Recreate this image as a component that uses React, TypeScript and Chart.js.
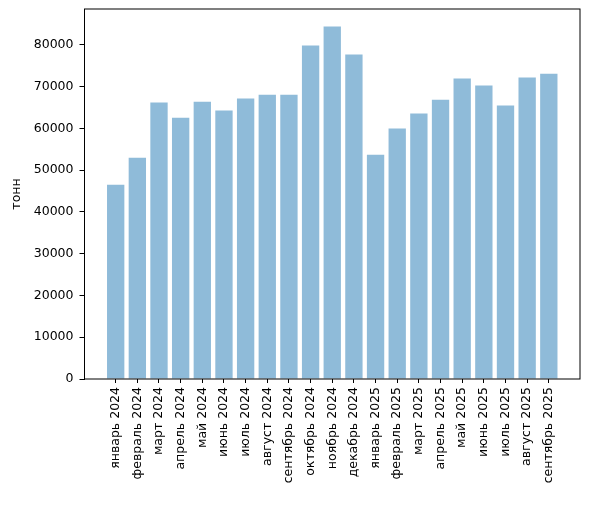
import { useEffect, useRef } from "react"
import { Chart, registerables } from "chart.js"

Chart.register(...registerables)

const months = [
  "январь 2024", "февраль 2024", "март 2024", "апрель 2024", "май 2024", "июнь 2024",
  "июль 2024", "август 2024", "сентябрь 2024", "октябрь 2024", "ноябрь 2024", "декабрь 2024",
  "январь 2025", "февраль 2025", "март 2025", "апрель 2025", "май 2025", "июнь 2025",
  "июль 2025", "август 2025", "сентябрь 2025",
]
const tonnes = [
  46500, 53000, 66200, 62600, 66400, 64300, 67200, 68100, 68100, 79900, 84400, 77700,
  53700, 60000, 63600, 66900, 72000, 70300, 65500, 72200, 73100,
]
const yTicks = [0, 10000, 20000, 30000, 40000, 50000, 60000, 70000, 80000]

const FONT = "'DejaVu Sans', sans-serif"

// frame around the plot area, like matplotlib spines
const framePlugin = {
  id: "frame",
  afterDraw(chart: Chart) {
    const { ctx, chartArea: a } = chart
    ctx.save()
    ctx.strokeStyle = "#000"
    ctx.lineWidth = 1
    ctx.strokeRect(a.left, a.top, a.right - a.left, a.bottom - a.top)
    ctx.restore()
  },
}

const App = () => {
  const chartRef = useRef<HTMLCanvasElement>(null)
  const chartInstance = useRef<Chart | null>(null)

  useEffect(() => {
    document.body.style.margin = "0"
    if (!chartRef.current) return
    if (chartInstance.current) chartInstance.current.destroy()
    const ctx = chartRef.current.getContext("2d")
    if (!ctx) return

    const n = months.length
    const pad = 0.4 + (n - 0.2) * 0.05

    chartInstance.current = new Chart(ctx, {
      type: "bar",
      data: {
        datasets: [
          {
            data: tonnes.map((v, i) => ({ x: i, y: v })),
            backgroundColor: "rgba(31, 119, 180, 0.5)",
            borderWidth: 0,
            barPercentage: 1,
            categoryPercentage: 0.8,
          },
        ],
      },
      options: {
        animation: false,
        responsive: false,
        devicePixelRatio: 1,
        layout: { padding: { top: 9, right: 9, left: 0, bottom: 0 } },
        plugins: { legend: { display: false }, tooltip: { enabled: false } },
        scales: {
          x: {
            type: "linear",
            offset: false,
            min: -pad,
            max: n - 1 + pad,
            afterFit: (s: any) => {
              s.height = 127
              s.paddingLeft = 0
              s.paddingRight = 0
            },
            afterBuildTicks: (s: any) => { s.ticks = months.map((_, i) => ({ value: i })) },
            grid: { drawOnChartArea: false, drawTicks: true, tickLength: 4, color: "#000", offset: false },
            border: { display: false },
            ticks: {
              autoSkip: false,
              minRotation: 90,
              maxRotation: 90,
              padding: 4,
              color: "#000",
              font: { family: FONT, size: 12.5 },
              callback: (v: any) => months[v] ?? "",
            },
          },
          y: {
            min: 0,
            max: Math.max(...tonnes) * 1.05,
            afterFit: (s: any) => {
              s.width = 84.5
              s.paddingTop = 0
              s.paddingBottom = 0
            },
            afterBuildTicks: (s: any) => { s.ticks = yTicks.map((v) => ({ value: v })) },
            grid: { drawOnChartArea: false, drawTicks: true, tickLength: 5, color: "#000" },
            border: { display: false },
            title: {
              display: true,
              text: "тонн",
              color: "#000",
              font: { family: FONT, size: 12.5 },
              padding: { top: 9, bottom: 0 },
            },
            ticks: {
              padding: 6,
              color: "#000",
              font: { family: FONT, size: 12.5 },
              callback: (v: any) => String(v),
            },
          },
        },
      },
      plugins: [framePlugin],
    })

    return () => {
      if (chartInstance.current) chartInstance.current.destroy()
    }
  }, [])

  return (
    <div style={{ width: 589, height: 506, background: "#fff" }}>
      <canvas ref={chartRef} width={589} height={506} />
    </div>
  )
}

export default App
